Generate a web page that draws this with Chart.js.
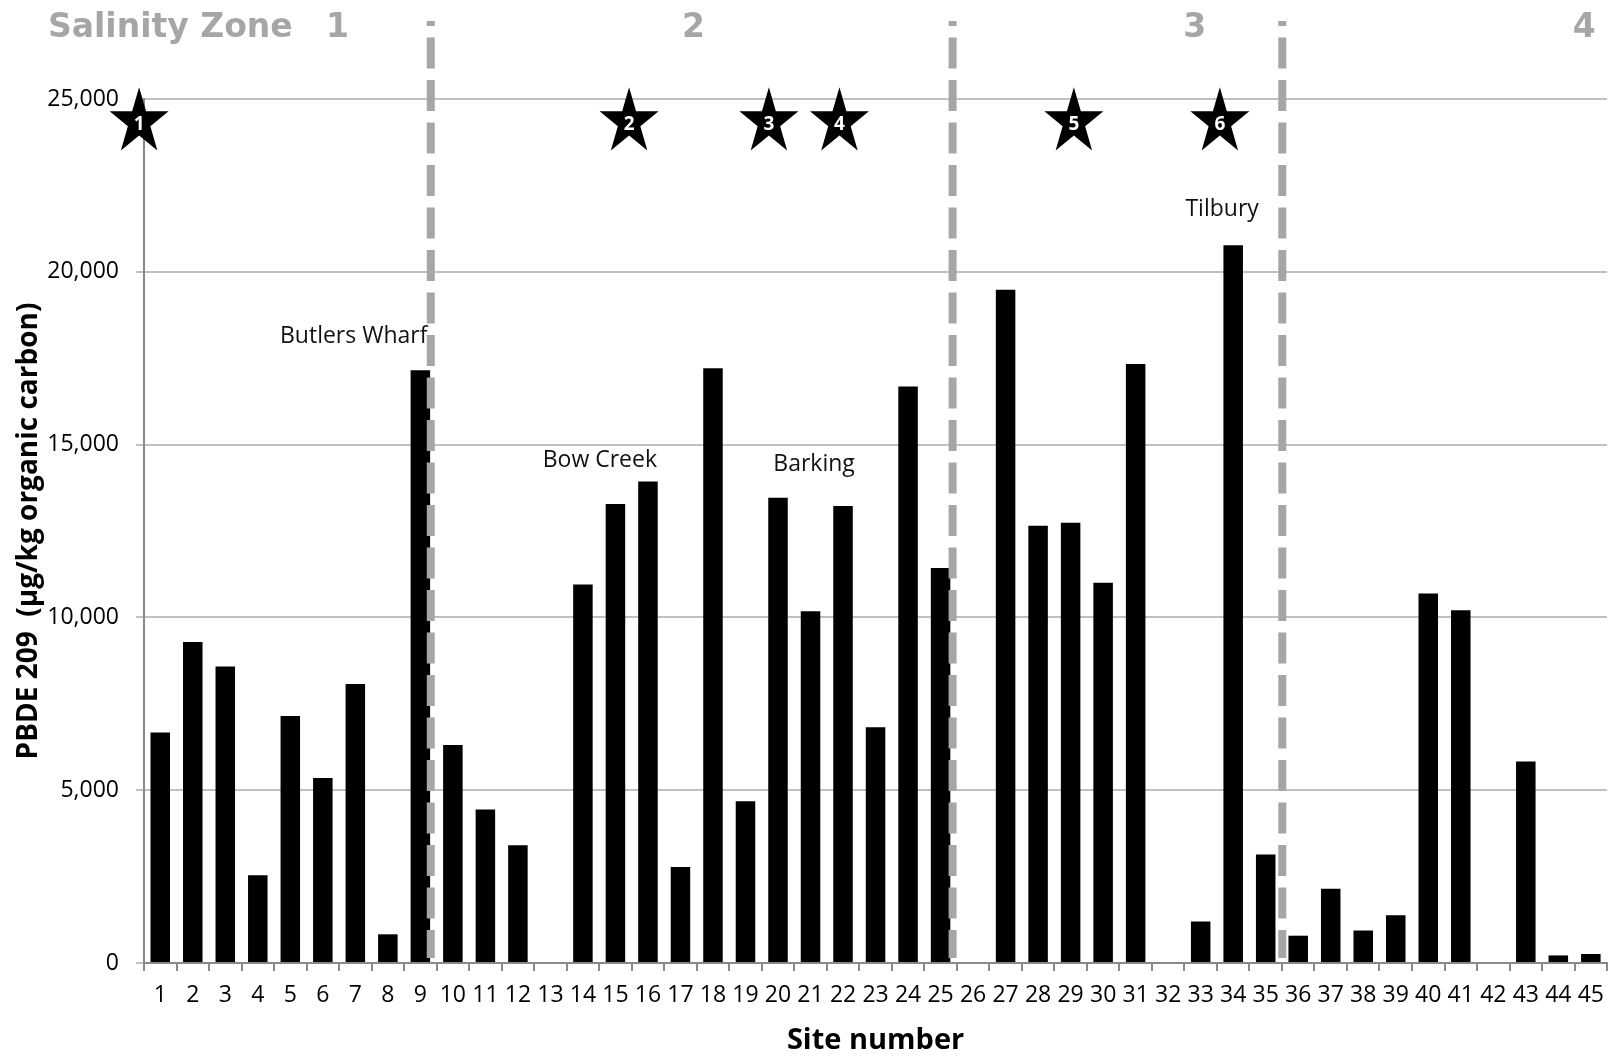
<!DOCTYPE html>
<html lang="en">
<head>
<meta charset="UTF-8">
<title>PBDE 209 by site number</title>
<script src="https://cdn.jsdelivr.net/npm/chart.js@4.4.1/dist/chart.umd.min.js"></script>
<style>
    html, body { margin: 0; padding: 0; background: #fff; }
    #wrap { width: 1615px; height: 1056px; }
</style>
</head>
<body>
<div id="wrap"><canvas id="myChart"></canvas></div>
<script>
    // sites along the estuary
    const sites = ['1', '2', '3', '4', '5', '6', '7', '8', '9', '10', '11', '12', '13', '14', '15',
        '16', '17', '18', '19', '20', '21', '22', '23', '24', '25', '26', '27', '28', '29', '30',
        '31', '32', '33', '34', '35', '36', '37', '38', '39', '40', '41', '42', '43', '44', '45'];

    // PBDE 209, ug/kg organic carbon
    const pbde209 = [6670, 9290, 8580, 2540, 7150, 5350, 8070, 830, 17150, 6310,
        4440, 3410, 0, 10950, 13280, 13930, 2780, 17210, 4680, 13460,
        10180, 13220, 6820, 16680, 11430, 0, 19480, 12650, 12740, 11000,
        17330, 0, 1200, 20770, 3140, 790, 2150, 940, 1380, 10690,
        10210, 0, 5830, 220, 260];

    const yTicks = [0, 5000, 10000, 15000, 20000, 25000];

    // salinity zone boundaries (site index position on the category axis)
    const dividerSites = [8.32, 24.37, 34.51];
    const zoneNames = ['1', '2', '3', '4'];
    const zoneSites = [5.45, 16.4, 31.82, 43.8];

    // numbered stars
    const starNumbers = ['1', '2', '3', '4', '5', '6'];
    const starSites = [-0.65, 14.42, 18.72, 20.89, 28.1, 32.59];
    const starLevel = 24330;

    // place names
    const noteLabels = ['Butlers Wharf', 'Bow Creek', 'Barking', 'Tilbury'];
    const noteSites = [5.95, 13.52, 20.11, 32.66];
    const noteValues = [18140, 14550, 14420, 21790];

    const grey = '#a6a6a6';
    const axisGrey = '#898989';

    function drawStar(ctx, cx, cy, R, sy) {
        const r = R * 0.382;
        ctx.beginPath();
        for (let i = 0; i < 10; i++) {
            const a = -Math.PI / 2 + i * Math.PI / 5;
            const rad = i % 2 ? r : R;
            ctx.lineTo(cx + rad * Math.cos(a), cy + rad * Math.sin(a) * sy);
        }
        ctx.closePath();
        ctx.fill();
    }

    const overlay = {
        id: 'overlay',
        afterDatasetsDraw(chart) {
            const { ctx, chartArea, scales: { x, y } } = chart;
            ctx.save();

            // dashed zone dividers
            ctx.strokeStyle = grey;
            ctx.lineWidth = 8;
            ctx.setLineDash([31, 11.5]);
            ctx.lineDashOffset = 26;
            dividerSites.forEach(s => {
                const px = x.getPixelForValue(s);
                ctx.beginPath();
                ctx.moveTo(px, 21);
                ctx.lineTo(px, chartArea.bottom - 5);
                ctx.stroke();
            });
            ctx.setLineDash([]);

            // zone header
            ctx.fillStyle = grey;
            ctx.font = 'bold 33px "DejaVu Sans"';
            ctx.textBaseline = 'middle';
            ctx.textAlign = 'left';
            ctx.fillText('Salinity Zone', 48, 28);
            ctx.textAlign = 'center';
            zoneNames.forEach((z, i) => {
                ctx.fillText(z, x.getPixelForValue(zoneSites[i]), 28);
            });

            // stars
            starNumbers.forEach((n, i) => {
                const cx = x.getPixelForValue(starSites[i]);
                const cy = y.getPixelForValue(starLevel);
                ctx.fillStyle = '#000';
                drawStar(ctx, cx, cy, 31, 1.13);
                ctx.fillStyle = '#fff';
                ctx.font = 'bold 19px "Open Sans"';
                ctx.fillText(n, cx, cy + 2);
            });

            // place names
            ctx.fillStyle = '#111';
            ctx.font = '23px "Open Sans"';
            noteLabels.forEach((t, i) => {
                ctx.fillText(t, x.getPixelForValue(noteSites[i]), y.getPixelForValue(noteValues[i]));
            });

            ctx.restore();
        }
    };

    const ctx = document.getElementById('myChart').getContext('2d');
    new Chart(ctx, {
        type: 'bar',
        data: {
            labels: sites,
            datasets: [{
                label: 'PBDE 209',
                data: pbde209,
                backgroundColor: '#000',
                barPercentage: 0.6,
                categoryPercentage: 1
            }]
        },
        options: {
            responsive: true,
            maintainAspectRatio: false,
            animation: false,
            layout: { padding: { top: 99, right: 2, left: 0, bottom: 0 } },
            plugins: {
                legend: { display: false },
                tooltip: { enabled: false }
            },
            scales: {
                x: {
                    grid: {
                        drawOnChartArea: false,
                        offset: true,
                        tickLength: 8,
                        color: axisGrey,
                        lineWidth: 2
                    },
                    border: { color: axisGrey, width: 2 },
                    ticks: {
                        color: '#000',
                        font: { family: 'Open Sans', size: 23 },
                        padding: 11,
                        maxRotation: 0,
                        autoSkip: false
                    },
                    title: {
                        display: true,
                        text: 'Site number',
                        color: '#000',
                        font: { family: 'Open Sans', size: 29, weight: 'bold', lineHeight: 1 },
                        padding: { top: 0, bottom: 1 }
                    },
                    afterFit(scale) { scale.height = 93; }
                },
                y: {
                    min: 0,
                    max: 25000,
                    afterBuildTicks(scale) { scale.ticks = yTicks.map(v => ({ value: v })); },
                    grid: { color: '#c0c0c0', lineWidth: 2, tickLength: 8 },
                    border: { color: axisGrey, width: 2 },
                    ticks: {
                        color: '#000',
                        font: { family: 'Open Sans', size: 23 },
                        padding: 17,
                        callback: v => v.toLocaleString('en-US')
                    },
                    title: {
                        display: true,
                        text: 'PBDE 209  (\u00b5g/kg organic carbon)',
                        color: '#000',
                        font: { family: 'Open Sans', size: 28, weight: 'bold', lineHeight: 1.2 },
                        padding: { top: 12, bottom: 0 }
                    },
                    afterFit(scale) { scale.width = 144; }
                }
            }
        },
        plugins: [overlay]
    });
</script>
</body>
</html>
